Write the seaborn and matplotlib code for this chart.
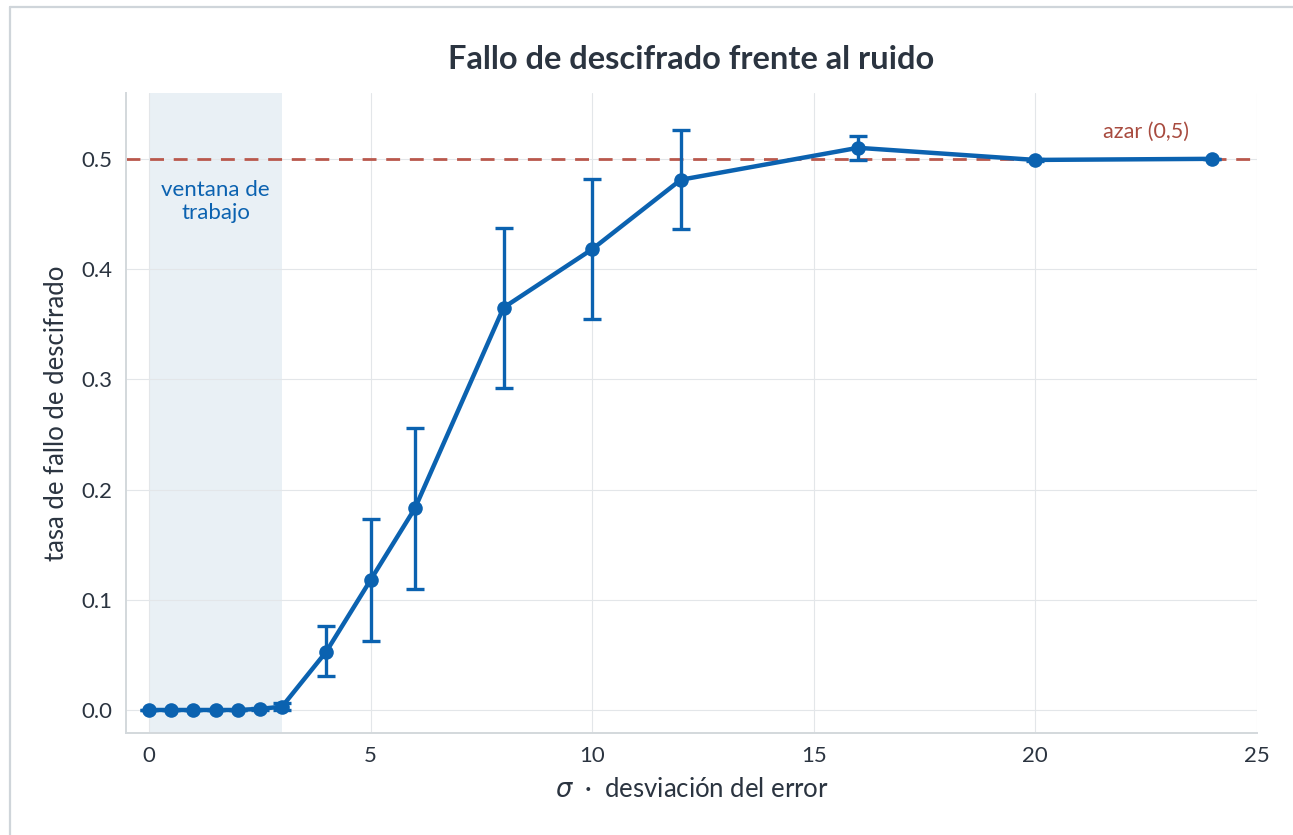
import seaborn as sns
import matplotlib.pyplot as plt
import matplotlib.lines as mlines
import pandas as pd
import numpy as np

# --- data ---
sigma = [0, 0.5, 1, 1.5, 2, 2.5, 3, 4, 5, 6, 8, 10, 12, 16, 20, 24]
fail_rate = [0, 0, 0, 0, 0, 0.001, 0.003, 0.053, 0.118, 0.183, 0.365, 0.418,
             0.481, 0.510, 0.499, 0.500]
err_low = [0, 0, 0, 0, 0, 0.001, 0.003, 0.022, 0.055, 0.073, 0.073, 0.063,
           0.045, 0.011, 0.001, 0.0]
err_high = [0, 0, 0, 0, 0, 0.001, 0.003, 0.023, 0.055, 0.073, 0.072, 0.064,
            0.045, 0.011, 0.001, 0.0]
window = (0, 3)
chance = 0.5

df = pd.DataFrame({"sigma": sigma, "fail": fail_rate})

blue = "#0b62b0"
red = "#b9584c"
dark = "#2b3440"

sns.set_style("whitegrid", {"grid.color": "#e3e6e9", "axes.edgecolor": "#d3d8dc"})
plt.rcParams["font.family"] = ["Lato", "DejaVu Sans"]
plt.rcParams["mathtext.fontset"] = "dejavusans"

fig = plt.figure(figsize=(12.93, 8.35), dpi=100)
ax = fig.add_axes([0.0975, 0.122, 0.8745, 0.767])

ax.axvspan(*window, color="#e9f0f5", zorder=0, lw=0)
ax.axhline(chance, color=red, ls=(0, (5, 3.5)), lw=2.0, zorder=1)

ax.errorbar(sigma, fail_rate, yerr=[err_low, err_high], fmt="none",
            ecolor=blue, elinewidth=2.4, capsize=6.5, capthick=2.4, zorder=2)
sns.lineplot(data=df, x="sigma", y="fail", ax=ax, color=blue, lw=3.2,
             marker="o", markersize=10.5, markeredgewidth=0, zorder=3)

ax.text(1.5, 0.461, "ventana de\ntrabajo", ha="center", va="center",
        color=blue, fontsize=16, linespacing=1.2)
ax.text(22.5, 0.5245, "azar (0,5)", ha="center", va="center",
        color="#a84b3f", fontsize=15.5)

ax.set_xlim(-0.52, 25)
ax.set_ylim(-0.021, 0.56)
ax.set_xticks([0, 5, 10, 15, 20, 25])
ax.set_yticks([0, 0.1, 0.2, 0.3, 0.4, 0.5])
ax.set_yticklabels(["0.0", "0.1", "0.2", "0.3", "0.4", "0.5"])
ax.tick_params(axis="both", length=4.5, width=1.3, color=dark, labelsize=16,
               labelcolor=dark, direction="out", pad=5)
for s in ["top", "right"]:
    ax.spines[s].set_visible(False)
for s in ["left", "bottom"]:
    ax.spines[s].set_linewidth(1.4)

ax.set_xlabel(r"$\sigma$  ·  desviación del error", fontsize=18.5,
              color=dark, labelpad=8)
ax.set_ylabel("tasa de fallo de descifrado", fontsize=18.5, color=dark,
              labelpad=9)
ax.set_title("Fallo de descifrado frente al ruido", fontsize=23.5,
             fontweight="bold", color=dark, pad=17)

# light frame around the figure (top and left edges visible)
fig.add_artist(mlines.Line2D([10 / 1293, 1], [1 - 7 / 835, 1 - 7 / 835],
                             transform=fig.transFigure, color="#cfd5da", lw=1.6))
fig.add_artist(mlines.Line2D([10 / 1293, 10 / 1293], [0, 1 - 7 / 835],
                             transform=fig.transFigure, color="#cfd5da", lw=1.6))

fig.savefig("out.png", dpi=100)
